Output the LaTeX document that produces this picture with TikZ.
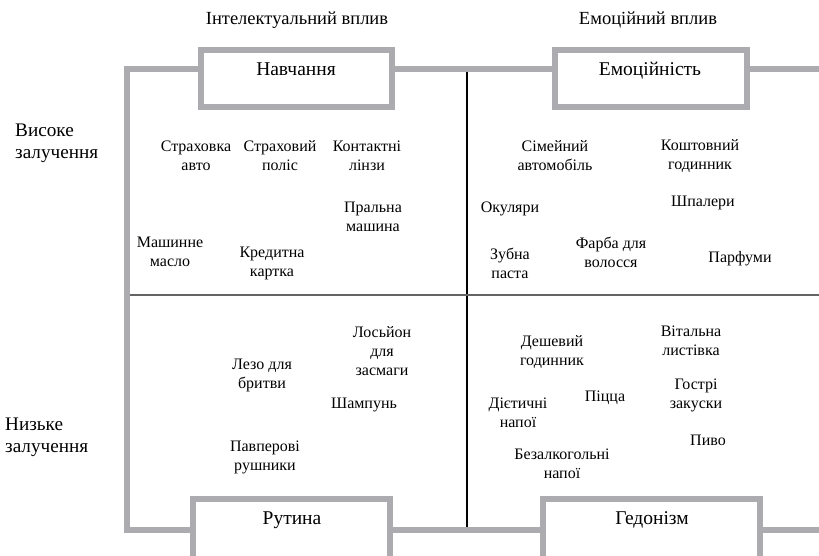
\documentclass[tikz,border=0pt]{standalone}
\usepackage{fontspec}
\setmainfont{Liberation Serif}
\newfontfamily\ukrserif{Liberation Serif}
\usetikzlibrary{positioning}

\definecolor{framegray}{RGB}{172,172,176}
\definecolor{midgray}{RGB}{100,100,100}

\begin{document}
\begin{tikzpicture}[x=1pt, y=-1pt,
frame/.style={line width=6pt, draw=framegray},
hbox/.style={rectangle, draw=framegray, line width=6pt, fill=white, inner sep=0pt},
boxtext/.style={font=\ukrserif\fontsize{19.5}{23}\selectfont, inner sep=0pt, anchor=base},
head/.style={font=\ukrserif\fontsize{18.5}{22}\selectfont, inner sep=0pt, align=left},
rowhead/.style={head, font=\ukrserif\fontsize{19.2}{22}\selectfont, anchor=west},
item/.style={font=\ukrserif\fontsize{16}{19}\selectfont, inner sep=0pt, align=center}
]
\clip (0,0) rectangle (819,555);

% corners of the frame
\coordinate (tl) at (127,69);
\coordinate (tr) at (819,69);
\coordinate (bl) at (127,530);
\coordinate (br) at (819,530);
\coordinate (mt) at (467,69);
\coordinate (mb) at (467,530);
\coordinate (ml) at (127,295);
\coordinate (mr) at (819,295);

\draw[line width=1.2pt] (mt)--(mb);
\draw[line width=2.5pt, midgray] (ml)--(mr);
\draw[frame] (tr)--(tl)--(bl)--(br);

% four corner boxes
\node[hbox, minimum width=191, minimum height=57] (n1) at (296.5,78.5) {};
\node[hbox, minimum width=192, minimum height=57] (n2) at (651,78.5) {};
\node[hbox, minimum width=197, minimum height=81] (n3) at (291.5,539.5) {};
\node[hbox, minimum width=217, minimum height=81] (n4) at (651.5,539.5) {};
\node[boxtext] (t1) at (296,75) {Навчання};
\node[boxtext] (t2) at (650,75) {Емоційність};
\node[boxtext] (t3) at (292,524) {Рутина};
\node[boxtext] (t4) at (652,524) {Гедонізм};

% headings
\node[head] (h1) at (297,20) {Інтелектуальний вплив};
\node[head] (h2) at (648,20) {Емоційний вплив};
\node[rowhead] (h3) at (15,143) {Високе\\залучення};
\node[rowhead] (h4) at (5,437) {Низьке\\залучення};

% high involvement, intellectual
\node[item] (a1) at (196,156) {Страховка\\авто};
\node[item] (a2) at (280,156) {Страховий\\поліс};
\node[item] (a3) at (367,156) {Контактні\\лінзи};
\node[item] (a4) at (373,217) {Пральна\\машина};
\node[item] (a5) at (170,252) {Машинне\\масло};
\node[item] (a6) at (272,263) {Кредитна\\картка};

% high involvement, emotional
\node[item] (b1) at (555,156) {Сімейний\\автомобіль};
\node[item] (b2) at (700,156) {Коштовний\\годинник};
\node[item] (b3) at (510,209) {Окуляри};
\node[item] (b4) at (703,203) {Шпалери};
\node[item] (b5) at (510,263) {Зубна\\паста};
\node[item] (b6) at (611,252) {Фарба для\\волосся};
\node[item] (b7) at (740,259) {Парфуми};

% low involvement, intellectual
\node[item] (c1) at (382,351) {Лосьйон\\для\\засмаги};
\node[item] (c2) at (262,375) {Лезо для\\бритви};
\node[item] (c3) at (364,405) {Шампунь};
\node[item] (c4) at (265,457) {Павперові\\рушники};

% low involvement, emotional
\node[item] (d1) at (552,352) {Дешевий\\годинник};
\node[item] (d2) at (691,341) {Вітальна\\листівка};
\node[item] (d3) at (696,395) {Гострі\\закуски};
\node[item] (d4) at (605,398) {Піцца};
\node[item] (d5) at (518,413) {Дієтичні\\напої};
\node[item] (d6) at (708,440) {Пиво};
\node[item] (d7) at (562,464) {Безалкогольні\\напої};
\end{tikzpicture}
\end{document}
